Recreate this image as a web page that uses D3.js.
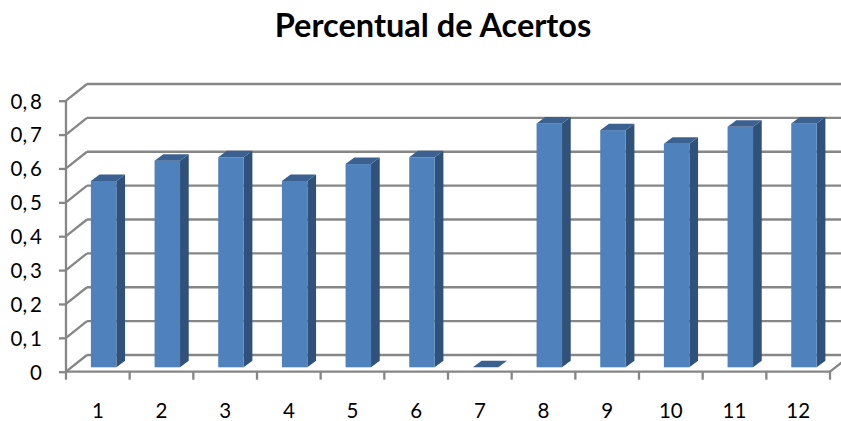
<!DOCTYPE html>
<html>
<head>
<meta charset="utf-8">
<script src="https://cdn.jsdelivr.net/npm/d3@7"></script>
<style>
  html, body { margin: 0; padding: 0; background: #ffffff; }
  svg { display: block; }
  text { font-family: Lato, "Open Sans", sans-serif; fill: #000; }
</style>
</head>
<body>
<svg id="chart" width="841" height="421"></svg>
<script>
// Percentual de acertos por questão
const chartTitle = "Percentual de Acertos";
const categories = ["1", "2", "3", "4", "5", "6", "7", "8", "9", "10", "11", "12"];
const values = [0.55, 0.61, 0.62, 0.55, 0.60, 0.62, 0, 0.72, 0.70, 0.66, 0.71, 0.72];
const yTicks = [0, 0.1, 0.2, 0.3, 0.4, 0.5, 0.6, 0.7, 0.8];

const W = 841, H = 421;
const plot = { left: 66, right: 830, top: 100.7, bottom: 371.7 };
// oblique depth of the back wall and of the bars
const wall = { dx: 21, dy: -16.7 };
const barFront = { dx: 5.8, dy: -4.4 };
const barDepth = { dx: 8.7, dy: -6.5 };

const gridColor = "#868686";
const faceColor = "#4f81bd", topColor = "#3b6191", sideColor = "#30527a";

const svg = d3.select("#chart");

const x = d3.scaleBand()
  .domain(categories)
  .range([plot.left, plot.right])
  .paddingInner(0.6)
  .paddingOuter(0.3);

const y = d3.scaleLinear()
  .domain([0, 0.8])
  .range([plot.bottom, plot.top]);

const locale = d3.formatLocale({ decimal: ",", thousands: ".", grouping: [3], currency: ["R$", ""] });
const fmt = locale.format(".1~f");

// title
svg.append("text")
  .attr("x", 433)
  .attr("y", 37)
  .attr("text-anchor", "middle")
  .style("font-size", "32.5px")
  .style("font-weight", "bold")
  .text(chartTitle);

const grid = svg.append("g")
  .attr("stroke", gridColor)
  .attr("stroke-width", 2.3)
  .attr("fill", "none");

// back wall gridlines
grid.selectAll("line.back")
  .data(yTicks)
  .join("line")
  .attr("class", "back")
  .attr("x1", plot.left + wall.dx)
  .attr("x2", plot.right + wall.dx)
  .attr("y1", d => y(d) + wall.dy)
  .attr("y2", d => y(d) + wall.dy);

// side wall gridlines
grid.selectAll("line.side")
  .data(yTicks)
  .join("line")
  .attr("class", "side")
  .attr("x1", plot.left)
  .attr("x2", plot.left + wall.dx)
  .attr("y1", d => y(d))
  .attr("y2", d => y(d) + wall.dy);

// floor: right edge
grid.append("line")
  .attr("x1", plot.right).attr("y1", y(0))
  .attr("x2", plot.right + wall.dx).attr("y2", y(0) + wall.dy);

// bars
const bars = svg.append("g")
  .selectAll("g")
  .data(categories.map((c, i) => ({ c, v: values[i] })))
  .join("g");

function geom(d) {
  const x0 = x(d.c) + barFront.dx;
  const x1 = x0 + x.bandwidth();
  const yb = y(0) + barFront.dy;
  const yt = y(d.v) + barFront.dy;
  return { x0, x1, yb, yt, ddx: barDepth.dx, ddy: barDepth.dy };
}

bars.append("path")
  .attr("fill", sideColor)
  .attr("d", d => {
    const g = geom(d);
    return `M${g.x1},${g.yt}L${g.x1 + g.ddx},${g.yt + g.ddy}L${g.x1 + g.ddx},${g.yb + g.ddy}L${g.x1},${g.yb}Z`;
  });

bars.append("rect")
  .attr("fill", faceColor)
  .attr("x", d => geom(d).x0)
  .attr("y", d => geom(d).yt)
  .attr("width", x.bandwidth())
  .attr("height", d => geom(d).yb - geom(d).yt);

bars.append("path")
  .attr("fill", topColor)
  .attr("d", d => {
    const g = geom(d);
    return `M${g.x0},${g.yt}L${g.x1},${g.yt}L${g.x1 + g.ddx},${g.yt + g.ddy}L${g.x0 + g.ddx},${g.yt + g.ddy}Z`;
  });

// value axis
const yAxis = svg.append("g")
  .attr("transform", `translate(${plot.left},0)`)
  .call(d3.axisLeft(y).tickValues(yTicks).tickSize(7).tickPadding(17).tickFormat(fmt));
yAxis.select(".domain").remove();
yAxis.selectAll(".tick line").attr("stroke", gridColor).attr("stroke-width", 2.3);
yAxis.selectAll(".tick text")
  .style("font-size", "20.5px")
  .attr("dy", "0.36em")
  .each(function(d) {
    const s = fmt(d);
    const t = d3.select(this).text(null);
    const parts = s.split(",");
    t.append("tspan").text(parts.length > 1 ? parts[0] + "," : parts[0]);
    if (parts.length > 1) t.append("tspan").attr("dx", 3).text(parts[1]);
  });

svg.append("line")
  .attr("x1", plot.left).attr("x2", plot.left)
  .attr("y1", y(0.8)).attr("y2", y(0))
  .attr("stroke", gridColor).attr("stroke-width", 2.3);

// category axis
const step = x.step();
const bounds = categories.map(c => x(c) + x.bandwidth() / 2 - step / 2)
  .concat([x(categories[categories.length - 1]) + x.bandwidth() / 2 + step / 2]);

svg.append("line")
  .attr("x1", plot.left).attr("x2", plot.right)
  .attr("y1", y(0)).attr("y2", y(0))
  .attr("stroke", gridColor).attr("stroke-width", 2.3);

svg.append("g")
  .selectAll("line")
  .data(bounds)
  .join("line")
  .attr("x1", d => d).attr("x2", d => d)
  .attr("y1", y(0)).attr("y2", y(0) + 8)
  .attr("stroke", gridColor).attr("stroke-width", 2.3);

svg.append("g")
  .selectAll("text")
  .data(categories)
  .join("text")
  .attr("x", d => x(d) + x.bandwidth() / 2)
  .attr("y", 418)
  .attr("text-anchor", "middle")
  .style("font-size", "20.5px")
  .text(d => d);
</script>
</body>
</html>
